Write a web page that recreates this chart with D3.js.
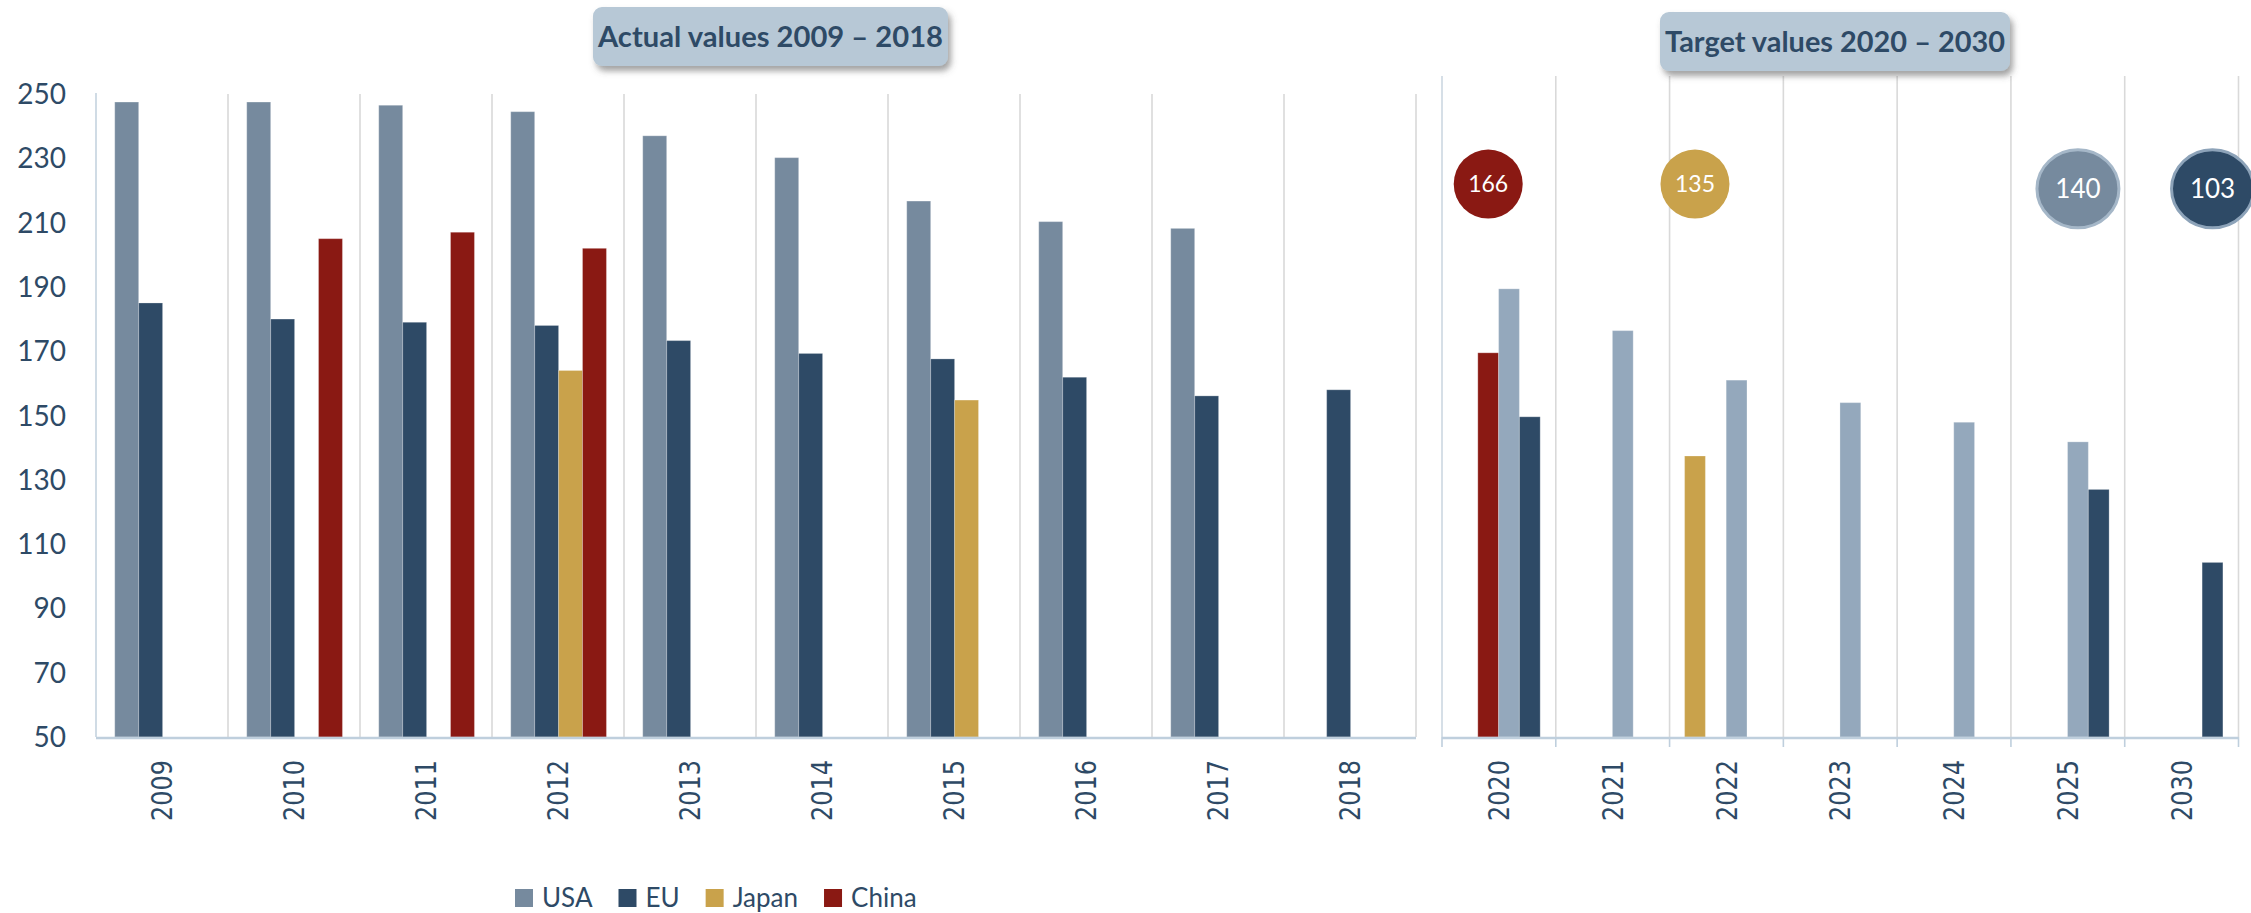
<!DOCTYPE html>
<html>
<head>
<meta charset="utf-8">
<script src="https://cdn.jsdelivr.net/npm/d3@7"></script>
<style>
  html, body { margin: 0; padding: 0; background: #ffffff; }
  svg { display: block; }
</style>
</head>
<body>
<svg id="chart" width="2251" height="913"></svg>
<script>
// ---------------- DATA ----------------
const actualYears = ["2009","2010","2011","2012","2013","2014","2015","2016","2017","2018"];
const actualUSA   = [247.5, 247.5, 246.5, 244.5, 237, 230.2, 216.7, 210.3, 208.2, null];
const actualEU    = [185, 180, 179, 178, 173.3, 169.3, 167.6, 161.9, 156.1, 158];
const actualJapan = [null, null, null, 164, null, null, 154.8, null, null, null];
const actualChina = [null, 205, 207, 202, null, null, null, null, null, null];

const targetYears = ["2020","2021","2022","2023","2024","2025","2030"];
const targetJapan = [null, null, 137.4, null, null, null, null];
const targetChina = [169.5, null, null, null, null, null, null];
const targetUSA   = [189.4, 176.4, 161, 154, 147.9, 141.8, null];
const targetEU    = [149.6, null, null, null, null, 127, 104.3];

const leftSeriesOrder  = ["USA","EU","Japan","China"];
const rightSeriesOrder = ["Japan","China","USA","EU"];

const bubbleYears  = ["2020","2022","2025","2030"];
const bubbleSeries = ["China","Japan","USA","EU"];
const bubbleLabels = ["166","135","140","103"];

const yTicks = [50,70,90,110,130,150,170,190,210,230,250];
const legendNames = ["USA","EU","Japan","China"];
const titleLeft  = "Actual values 2009 \u2013 2018";
const titleRight = "Target values 2020 \u2013 2030";

// ---------------- STYLE ----------------
const textColor = "#2E4A66";
const colorsLeft  = {USA:"#768A9E", EU:"#2E4A66", Japan:"#C9A24B", China:"#8A1913"};
const colorsRight = {USA:"#94A8BC", EU:"#2E4A66", Japan:"#C9A24B", China:"#8A1913"};
const bubbleStroke = {USA:"#A5B7C8", EU:"#8DA3B9"};

const svg = d3.select("#chart");

const defs = svg.append("defs");
const f = defs.append("filter").attr("id","shadow").attr("x","-10%").attr("y","-20%").attr("width","130%").attr("height","160%");
f.append("feDropShadow").attr("dx",3).attr("dy",5).attr("stdDeviation",3)
  .attr("flood-color","#555").attr("flood-opacity",0.55);

// ---------------- SCALES ----------------
const y = d3.scaleLinear().domain([50,250]).range([737,94]);

const x0L = d3.scaleBand().domain(actualYears).range([96,1416]).padding(0);
const x1L = d3.scaleBand().domain(leftSeriesOrder)
  .range([x0L.bandwidth()*0.142, x0L.bandwidth()*0.867]).padding(0);

const x0R = d3.scaleBand().domain(targetYears).range([1442,2238.5]).padding(0);
const x1R = d3.scaleBand().domain(rightSeriesOrder)
  .range([x0R.bandwidth()*0.132, x0R.bandwidth()*0.863]).padding(0);

const leftData = {USA:actualUSA, EU:actualEU, Japan:actualJapan, China:actualChina};
const rightData = {USA:targetUSA, EU:targetEU, Japan:targetJapan, China:targetChina};

function flatten(years, dataMap, order){
  const out = [];
  years.forEach((yr,i)=>{
    order.forEach(s=>{
      const v = dataMap[s][i];
      if (v !== null && v !== undefined) out.push({year:yr, series:s, value:v});
    });
  });
  return out;
}

// ---------------- GRIDLINES ----------------
const gridColor = "#D9D9D9";
const axisBlue = "#BFCFDD";

// left panel vertical gridlines at band boundaries
const leftBounds = actualYears.map(d=>x0L(d)).concat([x0L.range()[1]]);
svg.append("g").selectAll("line").data(leftBounds.slice(1)).join("line")
  .attr("x1",d=>d).attr("x2",d=>d).attr("y1",y(250)).attr("y2",y(50))
  .attr("stroke",gridColor).attr("stroke-width",1.6);
// left y axis line
svg.append("line").attr("x1",leftBounds[0]).attr("x2",leftBounds[0])
  .attr("y1",y(250)-1).attr("y2",y(50)).attr("stroke","#C5D3DF").attr("stroke-width",1.6);

// right panel gridlines
const rightBounds = targetYears.map(d=>x0R(d)).concat([x0R.range()[1]]);
const rightTop = 76;
svg.append("g").selectAll("line").data(rightBounds.slice(1)).join("line")
  .attr("x1",d=>d).attr("x2",d=>d).attr("y1",rightTop).attr("y2",y(50))
  .attr("stroke",gridColor).attr("stroke-width",1.6);
svg.append("line").attr("x1",rightBounds[0]).attr("x2",rightBounds[0])
  .attr("y1",rightTop).attr("y2",y(50)).attr("stroke","#CCD7E1").attr("stroke-width",1.6);

// ---------------- BARS ----------------
svg.append("g").selectAll("rect").data(flatten(actualYears, leftData, leftSeriesOrder)).join("rect")
  .attr("x",d=>x0L(d.year)+x1L(d.series))
  .attr("y",d=>y(d.value))
  .attr("width",x1L.bandwidth())
  .attr("height",d=>y(50)-y(d.value))
  .attr("fill",d=>colorsLeft[d.series])
  .attr("stroke","rgba(255,255,255,0.25)").attr("stroke-width",1);

svg.append("g").selectAll("rect").data(flatten(targetYears, rightData, rightSeriesOrder)).join("rect")
  .attr("x",d=>x0R(d.year)+x1R(d.series))
  .attr("y",d=>y(d.value))
  .attr("width",x1R.bandwidth())
  .attr("height",d=>y(50)-y(d.value))
  .attr("fill",d=>colorsRight[d.series])
  .attr("stroke","rgba(255,255,255,0.25)").attr("stroke-width",1);

// ---------------- X AXES ----------------
// left baseline
svg.append("line").attr("x1",x0L.range()[0]).attr("x2",x0L.range()[1])
  .attr("y1",y(50)+1).attr("y2",y(50)+1).attr("stroke",axisBlue).attr("stroke-width",2.5);
// right baseline with ticks
svg.append("line").attr("x1",x0R.range()[0]).attr("x2",x0R.range()[1])
  .attr("y1",y(50)+1).attr("y2",y(50)+1).attr("stroke",axisBlue).attr("stroke-width",2.5);
svg.append("g").selectAll("line").data(rightBounds).join("line")
  .attr("x1",d=>d).attr("x2",d=>d).attr("y1",y(50)).attr("y2",y(50)+10)
  .attr("stroke",axisBlue).attr("stroke-width",1.6);

function xLabels(years, scale){
  svg.append("g").selectAll("text").data(years).join("text")
    .attr("transform",d=>`translate(${scale(d)+scale.bandwidth()/2},760) rotate(-90)`)
    .attr("text-anchor","end")
    .attr("dy","0.36em")
    .attr("font-family","DejaVu Sans, Verdana, sans-serif")
    .attr("font-size",28)
    .attr("textLength",61).attr("lengthAdjust","spacingAndGlyphs")
    .attr("fill",textColor)
    .text(d=>d);
}
xLabels(actualYears, x0L);
xLabels(targetYears, x0R);

// ---------------- Y AXIS LABELS ----------------
svg.append("g").selectAll("text").data(yTicks).join("text")
  .attr("x",66).attr("y",d=>y(d))
  .attr("dy","0.36em")
  .attr("text-anchor","end")
  .attr("font-family","Lato, 'Open Sans', sans-serif")
  .attr("font-size",28)
  .attr("fill",textColor)
  .text(d=>d);

// ---------------- TITLE BOXES ----------------
function titleBox(text, bx, by, bw, bh){
  const g = svg.append("g");
  g.append("rect").attr("x",bx).attr("y",by).attr("width",bw).attr("height",bh)
    .attr("rx",9).attr("ry",9).attr("fill","#B7C8D6").attr("filter","url(#shadow)");
  g.append("text").attr("x",bx+bw/2).attr("y",by+bh/2).attr("dy","0.36em")
    .attr("text-anchor","middle")
    .attr("font-family","Lato, 'Open Sans', sans-serif")
    .attr("font-weight","bold").attr("font-size",28)
    .attr("textLength",bw-10).attr("lengthAdjust","spacingAndGlyphs")
    .attr("fill",textColor).text(text);
}
titleBox(titleLeft, 593, 7, 355, 59);
titleBox(titleRight, 1660, 12, 350, 59);

// ---------------- BUBBLES ----------------
const bubbleY = y(222);
bubbleYears.forEach((yr,i)=>{
  const s = bubbleSeries[i];
  const cx = x0R(yr)+x1R(s)+x1R.bandwidth()/2;
  const big = (s==="USA"||s==="EU");
  const r = big ? 40 : 34.5;
  const cy = big ? y(220.5) : bubbleY;
  svg.append("ellipse").attr("cx",cx).attr("cy",cy).attr("rx",big?41:34.5).attr("ry",big?39:34.5)
    .attr("fill",colorsLeft[s])
    .attr("stroke",big?bubbleStroke[s]:"none").attr("stroke-width",big?3:0);
  svg.append("text").attr("x",cx).attr("y",cy).attr("dy","0.36em")
    .attr("text-anchor","middle")
    .attr("font-family","Lato, 'Open Sans', sans-serif")
    .attr("font-size",big?26:23)
    .attr("fill","#ffffff").text(bubbleLabels[i]);
});

// ---------------- LEGEND ----------------
const legend = svg.append("g");
let lx = 515;
legendNames.forEach(n=>{
  legend.append("rect").attr("x",lx).attr("y",889).attr("width",18).attr("height",18)
    .attr("fill",colorsLeft[n]);
  const t = legend.append("text").attr("x",lx+27).attr("y",907)
    .attr("font-family","Lato, 'Open Sans', sans-serif")
    .attr("font-size",26).attr("fill",textColor).text(n);
  lx = lx + 27 + t.node().getComputedTextLength() + 26;
});
</script>
</body>
</html>
